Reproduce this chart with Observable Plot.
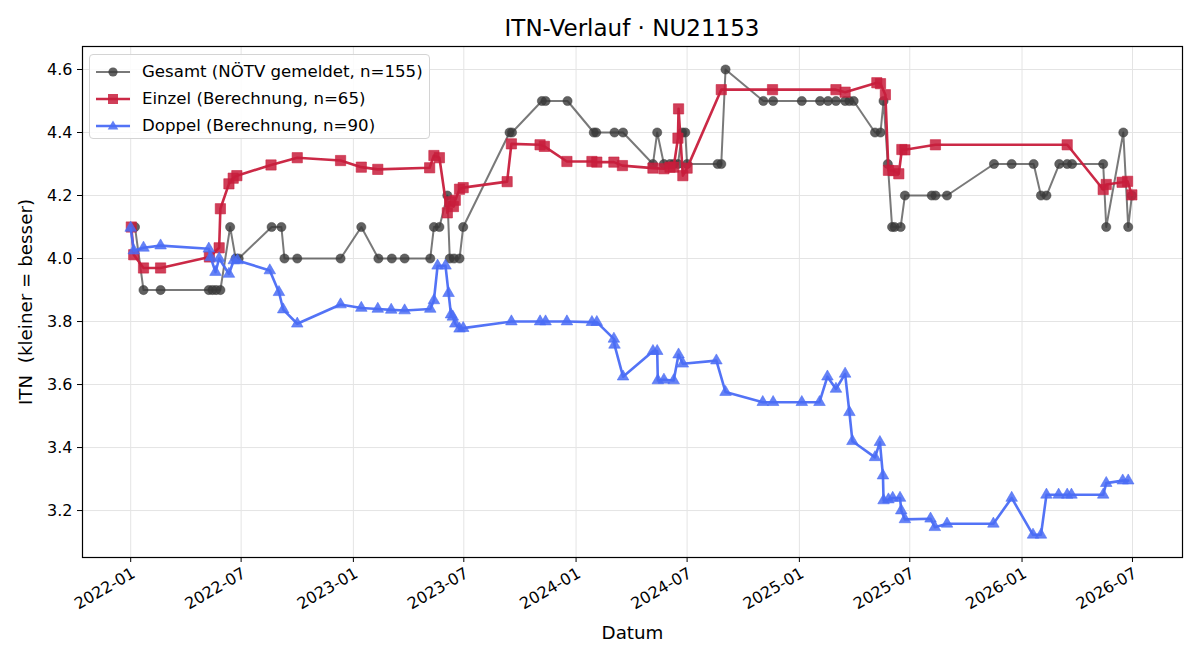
<!DOCTYPE html>
<html>
<head>
<meta charset="utf-8">
<script src="https://cdn.jsdelivr.net/npm/d3@7"></script>
<script src="https://cdn.jsdelivr.net/npm/@observablehq/plot@0.6"></script>
<style>
  body { margin: 0; background: #fff; font-family: "DejaVu Sans", sans-serif; }
  #wrap { position: relative; width: 1200px; height: 660px; overflow: hidden; }
  #title { position: absolute; left: 82px; width: 1100px; top: 16px; text-align: center; font-size: 23px; line-height: 24px; color: #000; }
  #chart { position: absolute; left: 0; top: 36px; }
  svg text { white-space: pre; }
  #legend { position: absolute; left: 89px; top: 54px; width: 339px; height: 83px; border: 1px solid #d4d4d4; border-radius: 4px; background: rgba(255,255,255,0.85); }
  .lrow { position: absolute; left: 0; height: 24px; }
  .lrow svg { position: absolute; left: 6px; top: 0; }
  .lrow span { position: absolute; left: 52px; top: 2px; font-size: 16.6px; line-height: 20px; white-space: nowrap; color: #000; }
</style>
</head>
<body>
<div id="wrap">
  <div id="title"></div>
  <div id="chart"></div>
  <div id="legend"></div>
</div>
<script>
const titleText = "ITN-Verlauf · NU21153";
const xLabel = "Datum";
const yLabel = "ITN  (kleiner = besser)";

const seriesNames = ["Gesamt (NÖTV gemeldet, n=155)", "Einzel (Berechnung, n=65)", "Doppel (Berechnung, n=90)"];

const gesamtDates = ["2022-01-08","2022-01-22","2022-02-19","2022-05-09","2022-05-15","2022-05-21","2022-05-28","2022-06-13","2022-06-22","2022-06-27","2022-08-20","2022-09-05","2022-09-10","2022-10-01","2022-12-11","2023-01-14","2023-02-11","2023-03-05","2023-03-26","2023-05-07","2023-05-13","2023-05-22","2023-06-04","2023-06-08","2023-06-15","2023-06-24","2023-06-30","2023-09-14","2023-09-18","2023-11-06","2023-11-12","2023-12-18","2024-01-30","2024-02-03","2024-03-04","2024-03-18","2024-05-06","2024-05-13","2024-05-24","2024-06-03","2024-06-09","2024-06-16","2024-06-23","2024-06-28","2024-07-01","2024-08-20","2024-08-26","2024-09-02","2024-11-03","2024-11-19","2025-01-05","2025-02-04","2025-02-17","2025-03-02","2025-03-17","2025-03-24","2025-03-31","2025-05-05","2025-05-14","2025-05-19","2025-05-26","2025-06-02","2025-06-06","2025-06-16","2025-06-23","2025-08-06","2025-08-12","2025-08-31","2025-11-16","2025-12-15","2026-01-20","2026-02-01","2026-02-10","2026-03-03","2026-03-16","2026-03-24","2026-05-14","2026-05-19","2026-06-16","2026-06-24","2026-06-30"];
const gesamtValues = [4.1,3.9,3.9,3.9,3.9,3.9,3.9,4.1,4.0,4.0,4.1,4.1,4.0,4.0,4.0,4.1,4.0,4.0,4.0,4.0,4.1,4.1,4.2,4.0,4.0,4.0,4.1,4.4,4.4,4.5,4.5,4.5,4.4,4.4,4.4,4.4,4.3,4.4,4.3,4.3,4.3,4.3,4.4,4.4,4.3,4.3,4.3,4.6,4.5,4.5,4.5,4.5,4.5,4.5,4.5,4.5,4.5,4.4,4.4,4.5,4.3,4.1,4.1,4.1,4.2,4.2,4.2,4.2,4.3,4.3,4.3,4.2,4.2,4.3,4.3,4.3,4.3,4.1,4.4,4.1,4.2];

const einzelDates = ["2022-01-02","2022-01-06","2022-01-22","2022-02-19","2022-05-10","2022-05-26","2022-05-28","2022-06-11","2022-06-18","2022-06-24","2022-08-19","2022-10-01","2022-12-11","2023-01-14","2023-02-10","2023-05-06","2023-05-13","2023-05-22","2023-06-04","2023-06-08","2023-06-14","2023-06-17","2023-06-24","2023-06-30","2023-09-10","2023-09-17","2023-11-03","2023-11-10","2023-12-17","2024-01-27","2024-02-04","2024-03-03","2024-03-17","2024-05-06","2024-05-24","2024-06-03","2024-06-09","2024-06-16","2024-06-17","2024-06-24","2024-07-01","2024-08-26","2024-11-18","2025-03-02","2025-03-17","2025-05-08","2025-05-14","2025-05-22","2025-05-27","2025-06-04","2025-06-13","2025-06-18","2025-06-23","2025-08-12","2026-03-16","2026-05-14","2026-05-19","2026-06-14","2026-06-23","2026-06-30"];
const einzelValues = [4.10,4.012,3.97,3.97,4.005,4.034,4.158,4.237,4.255,4.263,4.297,4.32,4.311,4.29,4.283,4.288,4.327,4.32,4.145,4.18,4.165,4.185,4.22,4.225,4.244,4.364,4.361,4.356,4.308,4.308,4.306,4.306,4.295,4.287,4.285,4.29,4.29,4.382,4.475,4.263,4.287,4.536,4.536,4.536,4.528,4.558,4.555,4.52,4.28,4.279,4.269,4.346,4.345,4.361,4.361,4.219,4.235,4.242,4.245,4.202];

const doppelDates = ["2022-01-01","2022-01-06","2022-01-22","2022-02-19","2022-05-09","2022-05-12","2022-05-20","2022-05-26","2022-06-11","2022-06-19","2022-06-25","2022-08-17","2022-09-01","2022-09-08","2022-10-01","2022-12-11","2023-01-14","2023-02-10","2023-03-04","2023-03-26","2023-05-07","2023-05-13","2023-05-19","2023-06-01","2023-06-06","2023-06-10","2023-06-13","2023-06-17","2023-06-24","2023-06-30","2023-09-17","2023-11-03","2023-11-12","2023-12-17","2024-01-27","2024-02-04","2024-03-03","2024-03-04","2024-03-18","2024-05-06","2024-05-13","2024-05-14","2024-05-24","2024-06-09","2024-06-17","2024-06-24","2024-08-18","2024-09-02","2024-11-02","2024-11-19","2025-01-05","2025-02-03","2025-02-16","2025-03-02","2025-03-17","2025-03-24","2025-03-29","2025-05-05","2025-05-13","2025-05-18","2025-05-19","2025-05-27","2025-06-03","2025-06-15","2025-06-17","2025-06-23","2025-08-04","2025-08-11","2025-08-31","2025-11-15","2025-12-15","2026-01-19","2026-02-01","2026-02-10","2026-03-02","2026-03-16","2026-03-23","2026-05-14","2026-05-19","2026-06-15","2026-06-24"];
const doppelValues = [4.097,4.025,4.034,4.041,4.031,4.004,3.957,4.0,3.951,3.994,3.994,3.962,3.893,3.838,3.793,3.854,3.843,3.84,3.837,3.835,3.84,3.867,3.977,3.977,3.89,3.822,3.815,3.793,3.777,3.779,3.8,3.8,3.8,3.8,3.798,3.798,3.745,3.726,3.625,3.706,3.706,3.613,3.615,3.613,3.695,3.666,3.676,3.576,3.544,3.544,3.544,3.544,3.625,3.586,3.634,3.512,3.42,3.369,3.417,3.311,3.232,3.235,3.24,3.24,3.2,3.172,3.174,3.147,3.158,3.158,3.24,3.123,3.123,3.25,3.25,3.25,3.25,3.25,3.287,3.295,3.295];

const xTickDates = ["2022-01-01","2022-07-01","2023-01-01","2023-07-01","2024-01-01","2024-07-01","2025-01-01","2025-07-01","2026-01-01","2026-07-01"];
const yTickValues = [3.2,3.4,3.6,3.8,4.0,4.2,4.4,4.6];
const xDomain = ["2021-10-14","2026-09-21"];
const yDomain = [3.051,4.673];

const parse = d3.utcParse("%Y-%m-%d");
const rows = (ds, vs) => ds.map((d, i) => ({date: parse(d), v: vs[i]}));
const G = rows(gesamtDates, gesamtValues);
const E = rows(einzelDates, einzelValues);
const D = rows(doppelDates, doppelValues);
const xTicks = xTickDates.map(parse);

const cGray = "#3a3a3a", cRed = "#c81d3c", cBlue = "#4a6cf5";

document.getElementById("title").textContent = titleText;

const plot = Plot.plot({
  width: 1200,
  height: 624,
  marginTop: 10,
  marginBottom: 103,
  marginLeft: 82,
  marginRight: 18,
  style: {fontFamily: "DejaVu Sans", fontSize: "16px", color: "#000", background: "transparent", overflow: "visible"},
  x: {type: "utc", domain: xDomain.map(parse)},
  y: {domain: yDomain},
  marks: [
    Plot.gridX(xTicks, {stroke: "#e4e4e4", strokeOpacity: 1, strokeWidth: 1}),
    Plot.gridY(yTickValues, {stroke: "#e4e4e4", strokeOpacity: 1, strokeWidth: 1}),
    Plot.axisX(xTicks, {tickFormat: d3.utcFormat("%Y-%m"), tickRotate: -30, textAnchor: "end", lineAnchor: "top", tickSize: 5, tickPadding: 4, label: null, fontSize: 16}),
    Plot.axisY(yTickValues, {tickFormat: d => d.toFixed(1), tickSize: 5, tickPadding: 5, label: null, fontSize: 16}),
    Plot.line(G, {x: "date", y: "v", stroke: cGray, strokeOpacity: 0.68, strokeWidth: 2}),
    Plot.dot(G, {x: "date", y: "v", symbol: "circle", r: 4.6, fill: cGray, fillOpacity: 0.8, stroke: cGray, strokeOpacity: 0.6, strokeWidth: 0.8}),
    Plot.line(E, {x: "date", y: "v", stroke: cRed, strokeOpacity: 0.95, strokeWidth: 2.6}),
    Plot.dot(E, {x: "date", y: "v", symbol: "square", r: 5.8, fill: cRed, fillOpacity: 0.85, stroke: cRed, strokeOpacity: 0.7, strokeWidth: 0.8}),
    Plot.line(D, {x: "date", y: "v", stroke: cBlue, strokeOpacity: 0.95, strokeWidth: 2.6}),
    Plot.dot(D, {x: "date", y: "v", symbol: "triangle", r: 4.3, fill: cBlue, fillOpacity: 0.85, stroke: cBlue, strokeOpacity: 0.7, strokeWidth: 0.8}),
    Plot.frame({stroke: "#000", strokeWidth: 1.2}),
    Plot.text([xLabel], {text: d => d, frameAnchor: "bottom", dy: 76, lineAnchor: "middle", fontSize: 18.3}),
    Plot.text([yLabel], {text: d => d, frameAnchor: "left", dx: -56, rotate: -90, lineAnchor: "middle", textAnchor: "middle", fontSize: 18.3})
  ]
});
document.getElementById("chart").appendChild(plot);

// legend
const legend = document.getElementById("legend");
const legendSpecs = [
  {name: seriesNames[0], color: cGray, symbol: "circle", lineOp: 0.68, lw: 2},
  {name: seriesNames[1], color: cRed, symbol: "square", lineOp: 0.95, lw: 2.6},
  {name: seriesNames[2], color: cBlue, symbol: "triangle", lineOp: 0.95, lw: 2.6}
];
legendSpecs.forEach((s, i) => {
  const row = document.createElement("div");
  row.className = "lrow";
  row.style.top = (5 + i * 27) + "px";
  let marker;
  if (s.symbol === "circle") marker = `<circle cx="17" cy="12" r="4.6" fill="${s.color}" fill-opacity="0.8"/>`;
  else if (s.symbol === "square") marker = `<rect x="12" y="7" width="10" height="10" fill="${s.color}" fill-opacity="0.85"/>`;
  else marker = `<path d="M17,6.5 L22.3,15.5 L11.7,15.5 Z" fill="${s.color}" fill-opacity="0.85"/>`;
  row.innerHTML = `<svg width="36" height="24"><line x1="0" x2="34" y1="12" y2="12" stroke="${s.color}" stroke-opacity="${s.lineOp}" stroke-width="${s.lw}"/>${marker}</svg><span>${s.name}</span>`;
  legend.appendChild(row);
});
</script>
</body>
</html>
